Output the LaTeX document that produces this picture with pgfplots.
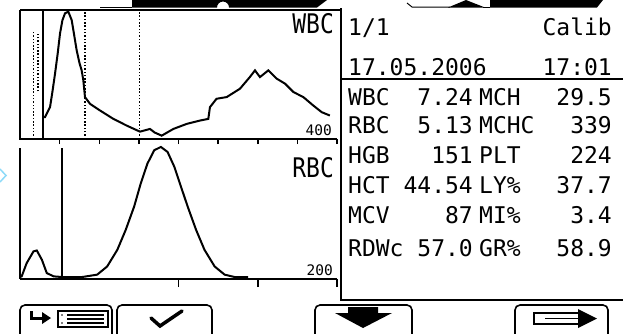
\documentclass[border=0pt]{standalone}
\usepackage{pgfplots}
\pgfplotsset{compat=1.18}
\usepackage{fontspec}
\setmainfont{DejaVu Sans Mono}
\newcommand{\lcd}{\fontsize{23}{23}\selectfont}
\newcommand{\lcds}{\fontsize{14.5}{14.5}\selectfont}
\tikzset{gate/.style={black, line width=1.6pt, dash pattern=on 1.5pt off 1.8pt},
  curve/.style={black, line width=2pt, line join=miter},
  frame/.style={black, line width=1.9pt}}
\begin{document}
\begin{tikzpicture}[x=1pt,y=1pt]
\path[use as bounding box] (0,0) rectangle (623,-333);
\begin{scope}
\clip (0,0) rectangle (623,-333);
% ---------------- WBC histogram
\begin{axis}[at={(20pt,-139pt)}, anchor=south west, scale only axis,
  width=317pt, height=129pt, xmin=0, xmax=400, ymin=0, ymax=100,
  axis line style={draw=none}, ytick=\empty, xtick={50,100,...,400},
  xticklabels={}, xticklabel style={text opacity=0}, tick pos=left, tick align=outside, major tick length=5pt,
  every tick/.style={black, line width=1.5pt}, clip=false]
\addplot[curve] coordinates {
(29.4,16.9) (31.5,16.9) (34,20) (37.9,24.7) (41,37) (44.2,50.6) (47.5,66) (50.5,81.8)
(53.5,92) (56.8,97.4) (61,98.7) (65.2,92.2) (68.5,80) (71.5,68.8) (75,59) (77.8,53.2) (79.9,45.5)
(82,32.5) (88.3,27.3) (101,22.1) (117.8,15.6) (134.6,10.4) (151.4,5.7)
(164,7.8) (170,5) (178.8,2.6) (193.5,7.8) (210.3,11.7) (227,14.3) (237.6,15.6)
(239.7,24.7) (248,31.2) (260.8,32.5) (277.6,39) (290,48) (296.5,53.2) (302.8,48)
(313.3,53.2) (323.9,46.8) (334.4,42.9) (345,36.4) (357.5,32.5) (370,26) (380.7,20.8) (391,18.2)};
\addplot[black, line width=1.9pt] coordinates {(29.4,0) (29.4,100)};
\addplot[gate] coordinates {(16.8,0) (16.8,83)};
\addplot[gate] coordinates {(22.5,37) (22.5,82)};
\addplot[gate] coordinates {(82,0) (82,100)};
\addplot[gate] coordinates {(150.6,0) (150.6,100)};
\end{axis}
% ---------------- RBC histogram
\begin{axis}[at={(20pt,-279pt)}, anchor=south west, scale only axis,
  width=317pt, height=140pt, xmin=0, xmax=200, ymin=0, ymax=106,
  axis line style={draw=none}, ytick=\empty, xtick={100,150,200},
  xticklabels={}, xticklabel style={text opacity=0}, tick pos=left, tick align=outside, major tick length=8pt,
  every tick/.style={black, line width=1.5pt}, clip=false]
\addplot[curve] coordinates {
(0,1.5) (1.06,2) (4.2,12) (8.5,20.9) (10.6,21.6) (13.8,14.6) (16.9,4.5) (21.2,2) (26.5,1.5)};
\addplot[curve] coordinates {
(26.5,1.5) (39.2,1.5) (48.7,3.3) (55,9.5) (61.4,22.1) (66.7,37.2) (72,54.8) (76.2,72.4)
(80.4,87.4) (84.7,97.5) (88.9,100) (93.1,96.2) (97.4,84.9) (101.6,69.8) (105.8,54.8)
(111.1,37.2) (116.4,22.1) (122.8,9.5) (129.1,3.3) (135.4,1.5) (143.9,1.5)};
\addplot[black, line width=1.9pt] coordinates {(26.3,0) (26.3,99)};
\end{axis}
% ---------------- frames
\draw[frame] (20,-10) -- (341,-10);
\draw[frame] (20,-10) -- (20,-139.5);
\draw[frame] (20,-139) -- (337,-139);
\draw[frame] (20,-148) -- (20,-279);
\draw[frame] (20,-279) -- (337,-279);
\draw[frame] (341,-8) -- (341,-300) -- (623,-300);
\draw[frame] (341,-79) -- (623,-79);
% ---------------- top status bar (cut off)
\draw[black, line width=1pt] (100,-7) -- (132,-7);
\fill[black] (132,0) -- (132,-7.5) -- (217,-7.5) arc[start angle=180, end angle=0, radius=6] -- (317,-7.5) -- (327,0) -- cycle;
\draw[black, line width=1pt] (407,-3) -- (412,-7) -- (450,-7);
\fill[black] (448,-7.5) -- (466,0) -- (485,-7.5) -- cycle;
\draw[black, line width=1pt] (483,-7) -- (490,-7);
\fill[black] (490,-7.5) -- (490,0) -- (603,0) -- (597,-7.5) -- cycle;
% ---------------- cyan marker
\draw[cyan!45!white, line width=1.5pt] (0,-169) -- (6,-175.5) -- (0,-182);
% ---------------- histogram labels
\node[anchor=base east, inner sep=0pt, xscale=0.85, transform shape] at (334,-33) {\fontsize{27}{27}\selectfont WBC};
\node[anchor=base east, inner sep=0pt, xscale=0.85, transform shape] at (334,-177) {\fontsize{27}{27}\selectfont RBC};
\node[anchor=base east, inner sep=0pt] at (332,-135) {\lcds 400};
\node[anchor=base east, inner sep=0pt] at (333,-275) {\lcds 200};
% ---------------- results table
\node[anchor=base west, inner sep=0pt] at (348,-35) {\lcd 1/1};
\node[anchor=base east, inner sep=0pt] at (612,-35) {\lcd Calib};
\node[anchor=base west, inner sep=0pt] at (348,-75) {\lcd 17.05.2006};
\node[anchor=base east, inner sep=0pt] at (612,-75) {\lcd 17:01};
\foreach \la/\va/\lb/\vb/\yy in {WBC/7.24/MCH/29.5/105, RBC/5.13/MCHC/339/133.5,
   HGB/151/PLT/224/163, HCT/44.54/LY\%/37.7/193, MCV/87/MI\%/3.4/223,
   RDWc/57.0/GR\%/58.9/256}{
  \node[anchor=base west, inner sep=0pt] at (348,-\yy) {\lcd \la};
  \node[anchor=base east, inner sep=0pt] at (473,-\yy) {\lcd \va};
  \node[anchor=base west, inner sep=0pt] at (479,-\yy) {\lcd \lb};
  \node[anchor=base east, inner sep=0pt] at (612,-\yy) {\lcd \vb};
}
% ---------------- soft buttons
\foreach \xa/\xb in {20/112, 117/212, 315/412, 515/608}{
  \draw[black, line width=1.6pt, rounded corners=5pt] (\xa,-305) rectangle (\xb,-345);
}
% button 1 icon
\draw[black, line width=3pt] (31,-311) -- (31,-318) -- (44,-318);
\fill[black] (42,-312) -- (51,-318) -- (42,-324) -- cycle;
\draw[black, line width=1.5pt] (58,-311) rectangle (108,-327);
\foreach \yy in {315,319,323}{\draw[black, line width=1.3pt] (67,-\yy) -- (104,-\yy);}
\foreach \yy in {315,323}{\fill[black] (62,-\yy) circle (0.9);}
% button 2 icon
\draw[black, line width=3.5pt, line cap=round] (151,-318) -- (160,-326) -- (182,-311);
% button 3 icon
\fill[black] (348,-307) -- (378,-307) -- (378,-313) -- (392,-313) -- (363,-328) -- (335,-313) -- (348,-313) -- cycle;
% button 4 icon
\draw[black, line width=2.5pt] (580,-313) -- (534,-313) -- (534,-324) -- (580,-324);
\draw[black, line width=1.2pt] (545,-318.5) -- (580,-318.5);
\fill[black] (578,-309) -- (597,-318.5) -- (578,-328) -- cycle;
\end{scope}
\end{tikzpicture}
\end{document}
